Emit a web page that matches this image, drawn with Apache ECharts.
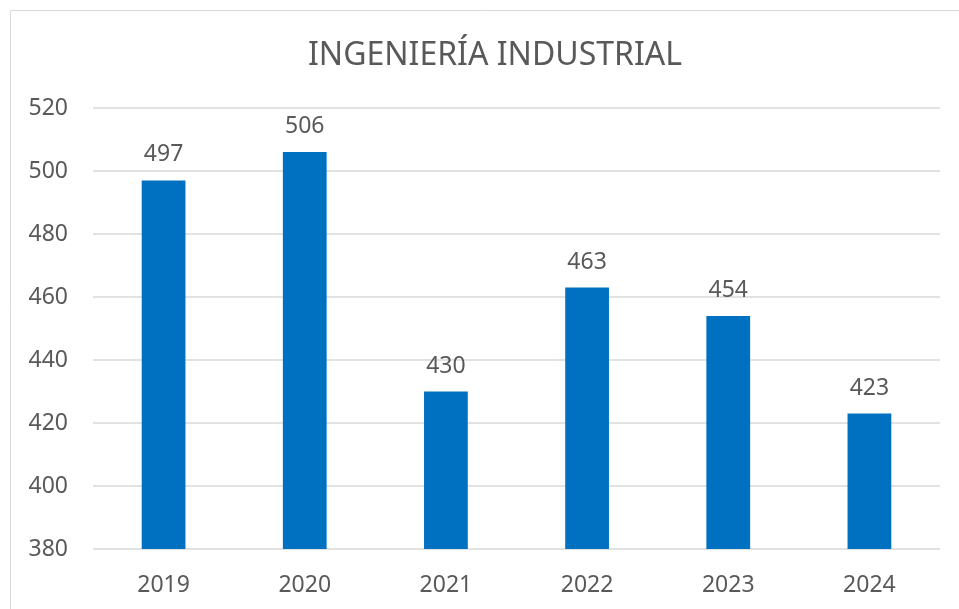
<!DOCTYPE html>
<html>
<head>
<meta charset="utf-8">
<style type="text/css">
	html,body{margin:0;padding:0;background:#fff}
	#main{width:959px;height:609px;}
</style>
<script src="https://cdn.jsdelivr.net/npm/echarts@6/dist/echarts.min.js"></script>
</head>
<body>
<div id="main"></div>
<script type="text/javascript">
// datos del gráfico
var years = ['2019', '2020', '2021', '2022', '2023', '2024'];
var students = [497, 506, 430, 463, 454, 423];
var yTicks = [380, 400, 420, 440, 460, 480, 500, 520];

var chart = echarts.init(document.getElementById('main'));
var textColor = '#595959';

var option = {
	backgroundColor: '#fff',
	textStyle: {fontFamily: 'Noto Sans'},
	// marco gris del área del gráfico
	graphic: [{
		type: 'rect',
		shape: {x: 10.5, y: 10.5, width: 960, height: 610},
		style: {fill: 'none', stroke: '#d9d9d9', lineWidth: 1}
	}],
	title: {
		text: 'INGENIERÍA INDUSTRIAL',
		left: 303,
		top: 35,
		textStyle: {color: textColor, fontSize: 32, fontWeight: 'normal', fontFamily: 'Noto Sans'}
	},
	grid: {left: 93, right: 19, top: 108, bottom: 60},
	xAxis: {
		type: 'category',
		data: years,
		axisLine: {show: false},
		axisTick: {show: false},
		axisLabel: {color: textColor, fontSize: 23, margin: 25}
	},
	yAxis: {
		type: 'value',
		min: yTicks[0],
		max: yTicks[yTicks.length - 1],
		interval: 20,
		axisLine: {show: false},
		axisTick: {show: false},
		axisLabel: {color: textColor, fontSize: 23, margin: 25},
		splitLine: {lineStyle: {color: '#d9d9d9', width: 1.5}}
	},
	series: [{
		name: 'Ingeniería Industrial',
		type: 'bar',
		data: students,
		barWidth: '31%',
		itemStyle: {color: '#0070C0'},
		label: {
			show: true,
			position: 'top',
			distance: 14,
			color: textColor,
			fontSize: 23
		}
	}]
};
chart.setOption(option);
</script>
</body>
</html>
